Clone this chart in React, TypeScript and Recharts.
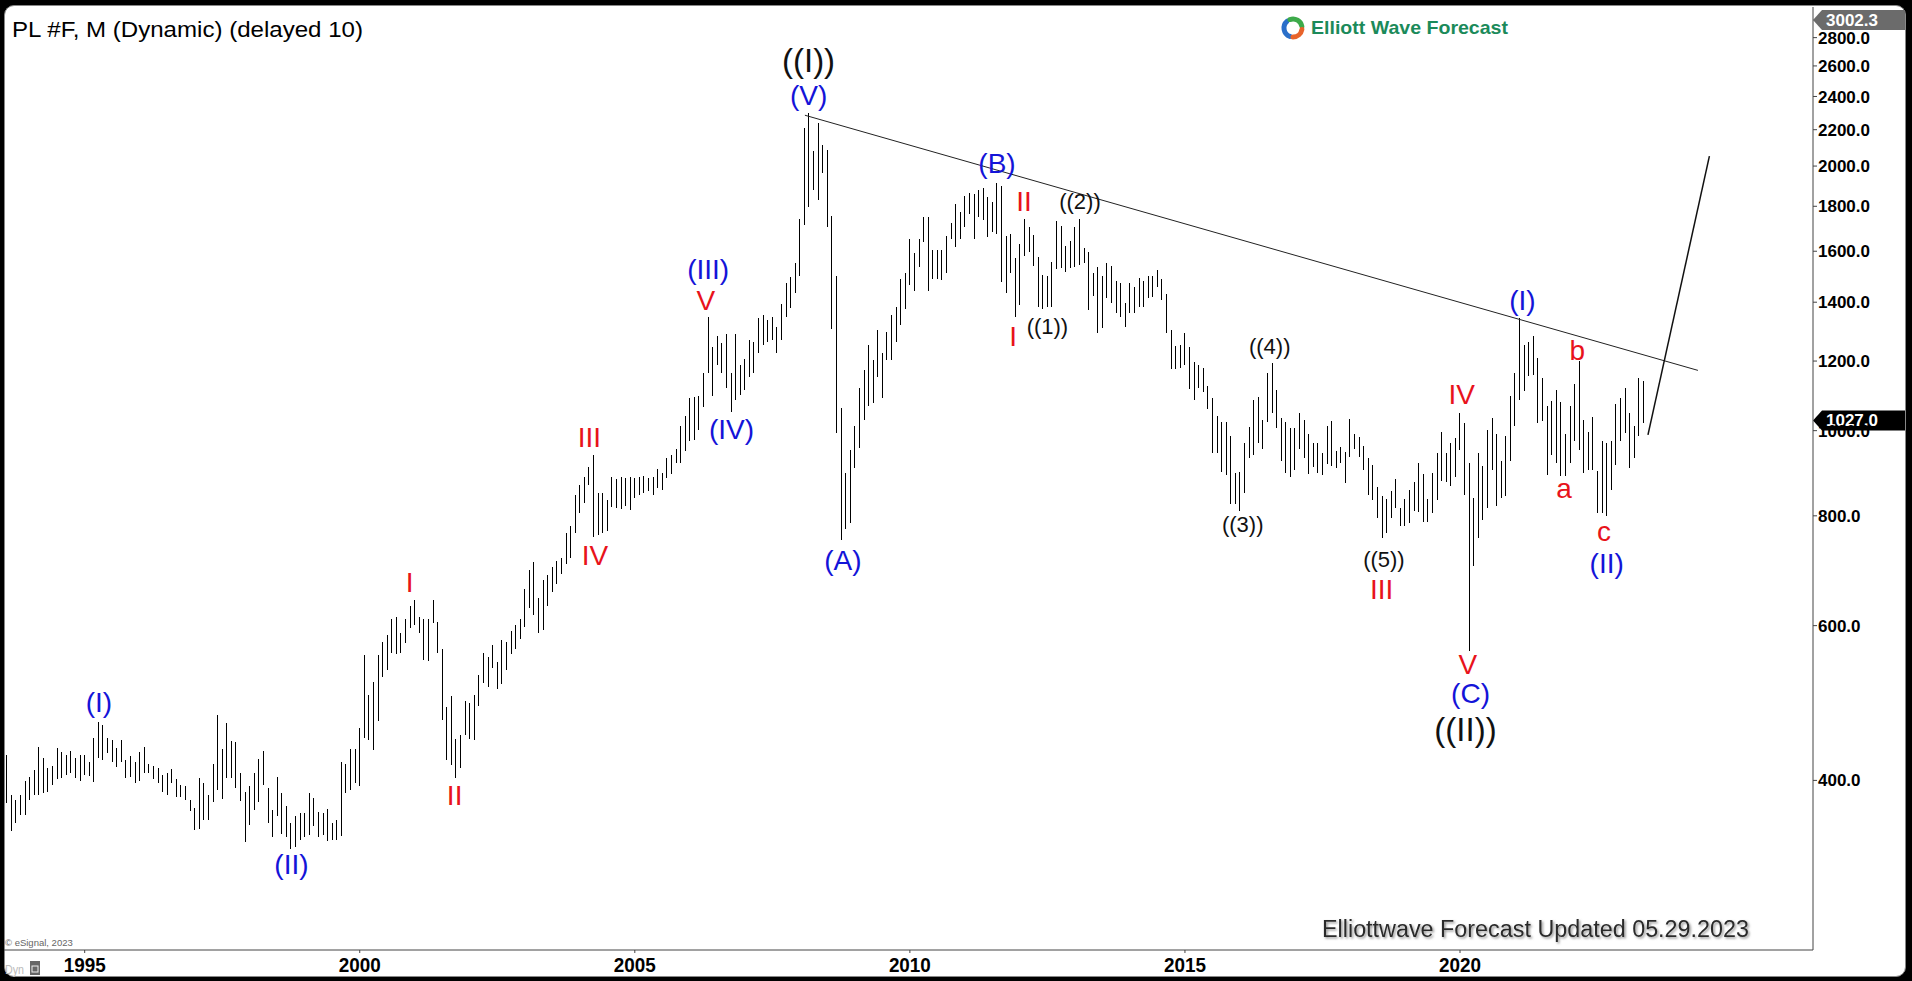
import React from 'react';
import { ComposedChart, Bar, Scatter, XAxis, YAxis, ReferenceLine } from 'recharts';

// monthly bars, first bar is Aug 1993
const START_YEAR = 1993;
const START_MONTH = 8;

const highs = [
  428, 385, 380, 385, 399,
  404, 411, 437, 424, 413, 415, 435, 431, 427, 432, 424, 427,
  427, 420, 447, 466, 463, 447, 445, 435, 445, 422, 426, 420,
  431, 437, 418, 415, 413, 406, 408, 412, 401, 395, 394, 380,
  372, 402, 397, 385, 418, 475, 434, 465, 443, 442, 408, 388,
  394, 408, 423, 432, 392, 370, 404, 387, 374, 358, 364, 367,
  367, 387, 382, 368, 367, 371, 358, 361, 420, 418, 434, 434,
  459, 556, 500, 518, 556, 575, 586, 610, 613, 589, 610, 631,
  641, 613, 611, 611, 641, 605, 565, 485, 499, 446, 451, 492,
  490, 500, 527, 558, 553, 570, 546, 578, 575, 592, 601, 610,
  660, 694, 708, 645, 677, 685, 700, 710, 716, 765, 778, 845,
  867, 886, 910, 938, 849, 849, 834, 885, 882, 886, 883, 886,
  884, 886, 888, 884, 886, 904, 896, 931, 939, 953, 1011, 1038,
  1089, 1092, 1095, 1162, 1348, 1246, 1280, 1257, 1288, 1162, 1288, 1188,
  1206, 1268, 1263, 1342, 1354, 1336, 1346, 1313, 1394, 1474, 1494, 1553,
  1739, 2207, 2299, 2082, 2236, 2113, 2086, 1755, 1500, 1061, 895, 951,
  1011, 1118, 1173, 1252, 1204, 1302, 1225, 1296, 1354, 1384, 1487, 1513,
  1650, 1591, 1650, 1751, 1751, 1605, 1605, 1605, 1664, 1724, 1810, 1774,
  1848, 1865, 1861, 1878, 1889, 1845, 1821, 1914, 1897, 1664, 1676, 1571,
  1630, 1739, 1706, 1669, 1578, 1504, 1500, 1557, 1733, 1709, 1621, 1644,
  1706, 1740, 1612, 1598, 1513, 1537, 1500, 1553, 1540, 1481, 1471, 1396,
  1471, 1458, 1491, 1479, 1498, 1498, 1524, 1488, 1431, 1302, 1249, 1252,
  1291, 1245, 1198, 1188, 1177, 1125, 1088, 1038, 1023, 1023, 985, 895,
  898, 968, 1010, 1085, 1091, 1028, 1163, 1195, 1112, 1035, 1023, 1008,
  1006, 1046, 1028, 991, 967, 968, 944, 1012, 1026, 948, 957, 946,
  1032, 991, 984, 960, 932, 914, 862, 842, 837, 854, 880, 816,
  835, 857, 874, 919, 892, 837, 894, 942, 997, 944, 968, 982,
  1046, 1019, 918, 838, 943, 911, 1002, 1034, 990, 923, 985, 1094,
  1163, 1343, 1250, 1263, 1282, 1210, 1148, 1066, 1080, 1113, 1077, 990,
  1066, 1131, 1199, 1027, 996, 1036, 899, 972, 968, 972, 1073, 1089,
  1118, 1047, 1013, 1148, 1138,
];

const lows = [
  377, 350, 358, 365, 365,
  380, 385, 385, 387, 388, 395, 401, 402, 406, 408, 402, 399,
  406, 405, 398, 424, 422, 430, 420, 414, 420, 402, 404, 397,
  399, 408, 408, 401, 397, 388, 385, 397, 383, 383, 380, 369,
  351, 352, 361, 361, 378, 390, 381, 402, 402, 392, 379, 340,
  356, 370, 378, 395, 358, 345, 364, 348, 345, 334, 336, 342,
  345, 347, 355, 345, 347, 341, 342, 342, 346, 387, 390, 397,
  394, 447, 445, 433, 467, 525, 534, 558, 557, 559, 574, 596,
  601, 588, 548, 547, 604, 558, 469, 422, 417, 402, 413, 451,
  446, 445, 486, 516, 511, 537, 508, 515, 534, 557, 565, 580,
  598, 628, 617, 589, 593, 631, 656, 670, 687, 705, 716, 764,
  806, 827, 867, 756, 761, 764, 768, 819, 816, 814, 821, 812,
  838, 845, 850, 854, 845, 860, 856, 883, 893, 918, 918, 947,
  972, 976, 1001, 1065, 1162, 1094, 1188, 1162, 1118, 1051, 1084, 1098,
  1113, 1152, 1162, 1225, 1252, 1263, 1268, 1225, 1268, 1346, 1380, 1433,
  1500, 1714, 1798, 1878, 1830, 1962, 1706, 1304, 993, 751, 773, 785,
  907, 955, 1029, 1067, 1075, 1152, 1089, 1204, 1202, 1263, 1319, 1374,
  1465, 1440, 1537, 1640, 1443, 1488, 1488, 1485, 1513, 1650, 1619, 1650,
  1706, 1766, 1650, 1751, 1736, 1662, 1684, 1676, 1475, 1433, 1510, 1348,
  1390, 1580, 1598, 1540, 1384, 1374, 1384, 1384, 1526, 1530, 1517, 1530,
  1537, 1544, 1553, 1372, 1424, 1293, 1308, 1415, 1396, 1360, 1348, 1311,
  1360, 1360, 1384, 1384, 1415, 1421, 1458, 1408, 1293, 1175, 1175, 1178,
  1188, 1115, 1085, 1119, 1106, 1057, 944, 942, 898, 890, 825, 825,
  811, 850, 930, 938, 967, 954, 1023, 1046, 1008, 924, 895, 886,
  903, 952, 932, 892, 908, 894, 890, 916, 911, 906, 918, 871,
  934, 954, 934, 902, 845, 834, 795, 754, 764, 795, 816, 778,
  778, 786, 811, 809, 788, 788, 805, 834, 877, 874, 865, 886,
  950, 845, 562, 701, 755, 792, 816, 903, 820, 838, 842, 923,
  1011, 1084, 1108, 1153, 1158, 1020, 1025, 891, 939, 919, 887, 887,
  919, 972, 951, 895, 903, 903, 806, 806, 799, 855, 915, 972,
  994, 907, 931, 985, 1020,
];

const yearTicks = [1995, 2000, 2005, 2010, 2015, 2020];
const priceTicks = [400, 600, 800, 1000, 1200, 1400, 1600, 1800, 2000, 2200, 2400, 2600, 2800];
const lastPrice = 1027.0;
const scaleTop = 3002.3;

// trendline and projection, in (bar index, price)
const trendLine = [{ k: 174.1, p: 2285 }, { k: 368.9, p: 1171 }];
const projection = [{ k: 358.0, p: 989 }, { k: 371.4, p: 2053 }];

const blueLabels = [
  { k: 20.1, p: 491, text: '(I)' },
  { k: 62.1, p: 321, text: '(II)' },
  { k: 153.0, p: 1527, text: '(III)' },
  { k: 158.1, p: 1003, text: '(IV)' },
  { k: 174.9, p: 2409, text: '(V)' },
  { k: 182.4, p: 711, text: '(A)' },
  { k: 216.0, p: 2011, text: '(B)' },
  { k: 319.3, p: 502, text: '(C)' },
  { k: 330.6, p: 1408, text: '(I)' },
  { k: 349.0, p: 706, text: '(II)' },
];

const redLabels = [
  { k: 87.9, p: 672, text: 'I' },
  { k: 97.7, p: 384, text: 'II' },
  { k: 127.1, p: 982, text: 'III' },
  { k: 128.3, p: 721, text: 'IV' },
  { k: 152.5, p: 1408, text: 'V' },
  { k: 219.5, p: 1279, text: 'I' },
  { k: 221.9, p: 1822, text: 'II' },
  { k: 299.9, p: 660, text: 'III' },
  { k: 317.4, p: 1098, text: 'IV' },
  { k: 318.7, p: 542, text: 'V' },
  { k: 339.7, p: 860, text: 'a' },
  { k: 342.6, p: 1235, text: 'b' },
  { k: 348.4, p: 767, text: 'c' },
];

const minorLabels = [
  { k: 227.0, p: 1313, text: '((1))' },
  { k: 234.1, p: 1822, text: '((2))' },
  { k: 269.6, p: 781, text: '((3))' },
  { k: 275.5, p: 1246, text: '((4))' },
  { k: 300.4, p: 714, text: '((5))' },
];

const cycleLabels = [
  { k: 174.9, p: 2634, text: '((I))' },
  { k: 318.2, p: 457, text: '((II))' },
];

const FONT = "'Liberation Sans', Arial, sans-serif";

const monthIndex = (year: number, month: number) => (year - START_YEAR) * 12 + (month - START_MONTH);
const bars = highs.map((h, i) => ({ k: i, range: [lows[i], h] }));

const Stick = (props: any) => {
  const { x, y, width, height } = props;
  if (x == null || y == null || height == null) return null;
  const top = Math.min(y, y + height);
  const h = Math.max(1, Math.abs(height));
  return <rect x={Math.round(x + width / 2 - 0.5)} y={top} width={1} height={h} fill="#000" shapeRendering="crispEdges" />;
};

const waveText = (color: string, size: number) => (props: any) => (
  <text
    x={props.cx}
    y={props.cy}
    textAnchor="middle"
    dominantBaseline="central"
    fill={color}
    fontSize={size}
    fontFamily={FONT}
  >
    {props.payload.text}
  </text>
);

const YearTick = (props: any) => {
  const { x, y, payload } = props;
  const year = START_YEAR + Math.floor((payload.value + START_MONTH - 1) / 12);
  return (
    <text x={x} y={y} dy="0.71em" textAnchor="middle" fontSize={21} fontWeight="bold" fontFamily={FONT}
      fill="#000" textLength={42} lengthAdjust="spacingAndGlyphs">
      {year}
    </text>
  );
};

const PriceTag = (props: any) => {
  const { viewBox, text, fill, below } = props;
  if (!viewBox) return null;
  const x0 = viewBox.x + viewBox.width;
  const cy = below ? viewBox.y + 9 : viewBox.y;
  return (
    <g>
      <polygon
        points={`${x0},${cy} ${x0 + 9},${cy - 10} ${x0 + 92},${cy - 10} ${x0 + 92},${cy + 10} ${x0 + 9},${cy + 10}`}
        fill={fill}
      />
      <text x={x0 + 13} y={cy + 6} fill="#fff" fontSize={17} fontWeight="bold" fontFamily={FONT}>{text}</text>
    </g>
  );
};

const arc = (cx: number, cy: number, r: number, a0: number, a1: number) => {
  const p = (a: number) => `${cx + r * Math.cos((a * Math.PI) / 180)},${cy + r * Math.sin((a * Math.PI) / 180)}`;
  return `M${p(a0)} A${r},${r} 0 0 1 ${p(a1)}`;
};

export default function App() {
  return (
    <div style={{ position: 'absolute', left: 0, top: 0, width: 1912, height: 981, background: '#000' }}>
      <div style={{ position: 'absolute', left: 4, top: 5, width: 1900, height: 970, background: '#fff', borderRadius: 10, border: '1px solid #888' }} />
      <div style={{ position: 'absolute', left: 0, top: 0 }}>
        <ComposedChart width={1912} height={981} data={bars} margin={{ top: 7, right: 0, bottom: 0, left: 4 }}>
          <XAxis
            dataKey="k"
            type="number"
            domain={[-0.6, 394]}
            allowDataOverflow
            ticks={yearTicks.map((y) => monthIndex(y, 1))}
            tick={<YearTick />}
            tickSize={3}
            tickMargin={4}
            height={31}
            stroke="#444"
          />
          <YAxis
            orientation="right"
            scale="log"
            domain={[256.5, 3034]}
            allowDataOverflow
            ticks={priceTicks}
            tickFormatter={(v: number) => v.toFixed(1)}
            tick={{ fontSize: 17, fontWeight: 'bold', fill: '#000', fontFamily: FONT }}
            tickSize={4}
            tickMargin={1}
            width={99}
            stroke="#444"
          />
          <Bar dataKey="range" barSize={1} shape={<Stick />} isAnimationActive={false} />
          <ReferenceLine segment={[{ x: trendLine[0].k, y: trendLine[0].p }, { x: trendLine[1].k, y: trendLine[1].p }]} stroke="#222" strokeWidth={1} />
          <ReferenceLine segment={[{ x: projection[0].k, y: projection[0].p }, { x: projection[1].k, y: projection[1].p }]} stroke="#111" strokeWidth={1.5} />
          <Scatter data={blueLabels} dataKey="p" shape={waveText('#1414d8', 28)} isAnimationActive={false} />
          <Scatter data={redLabels} dataKey="p" shape={waveText('#e8131b', 28)} isAnimationActive={false} />
          <Scatter data={minorLabels} dataKey="p" shape={waveText('#111', 22)} isAnimationActive={false} />
          <Scatter data={cycleLabels} dataKey="p" shape={waveText('#111', 33)} isAnimationActive={false} />
          <ReferenceLine y={lastPrice} stroke="none" label={<PriceTag text={lastPrice.toFixed(1)} fill="#000" />} />
          <ReferenceLine y={scaleTop} stroke="none" label={<PriceTag text={scaleTop.toFixed(1)} fill="#6b6b6b" below />} />
        </ComposedChart>
      </div>
      <svg width={1912} height={981} style={{ position: 'absolute', left: 0, top: 0, pointerEvents: 'none' }}>
        <defs>
          <filter id="shadow" x="-5%" y="-30%" width="110%" height="160%">
            <feDropShadow dx="1.5" dy="1.5" stdDeviation="1.2" floodColor="#777" floodOpacity="0.8" />
          </filter>
        </defs>
        <text x={12} y={37} fontSize={22} fontFamily={FONT} fill="#000" textLength={351} lengthAdjust="spacingAndGlyphs">
          PL #F, M (Dynamic) (delayed 10)
        </text>
        <g fill="none" strokeWidth={5} strokeLinecap="round">
          <path d={arc(1293, 28, 9, 110, 230)} stroke="#2a6fc9" />
          <path d={arc(1293, 28, 9, 250, 350)} stroke="#3daa4a" />
          <path d={arc(1293, 28, 9, 10, 90)} stroke="#e8632b" />
        </g>
        <text x={1311} y={34} fontSize={19} fontWeight="bold" fontFamily={FONT} fill="#1b8a5a" textLength={197} lengthAdjust="spacingAndGlyphs">
          Elliott Wave Forecast
        </text>
        <text x={1322} y={937} fontSize={23} fontFamily={FONT} fill="#2a2a2a" textLength={427} lengthAdjust="spacingAndGlyphs" filter="url(#shadow)">
          Elliottwave Forecast Updated 05.29.2023
        </text>
        <text x={5} y={946} fontSize={9.5} fontFamily={FONT} fill="#666">© eSignal, 2023</text>
        <text x={5} y={974} fontSize={13} fontFamily={FONT} fill="#bbb" textLength={19} lengthAdjust="spacingAndGlyphs">Dyn</text>
        <rect x={30} y={961} width={10} height={14} fill="#666" />
        <rect x={32} y={966} width={6} height={6} fill="none" stroke="#eee" strokeWidth={1} />
      </svg>
    </div>
  );
}
